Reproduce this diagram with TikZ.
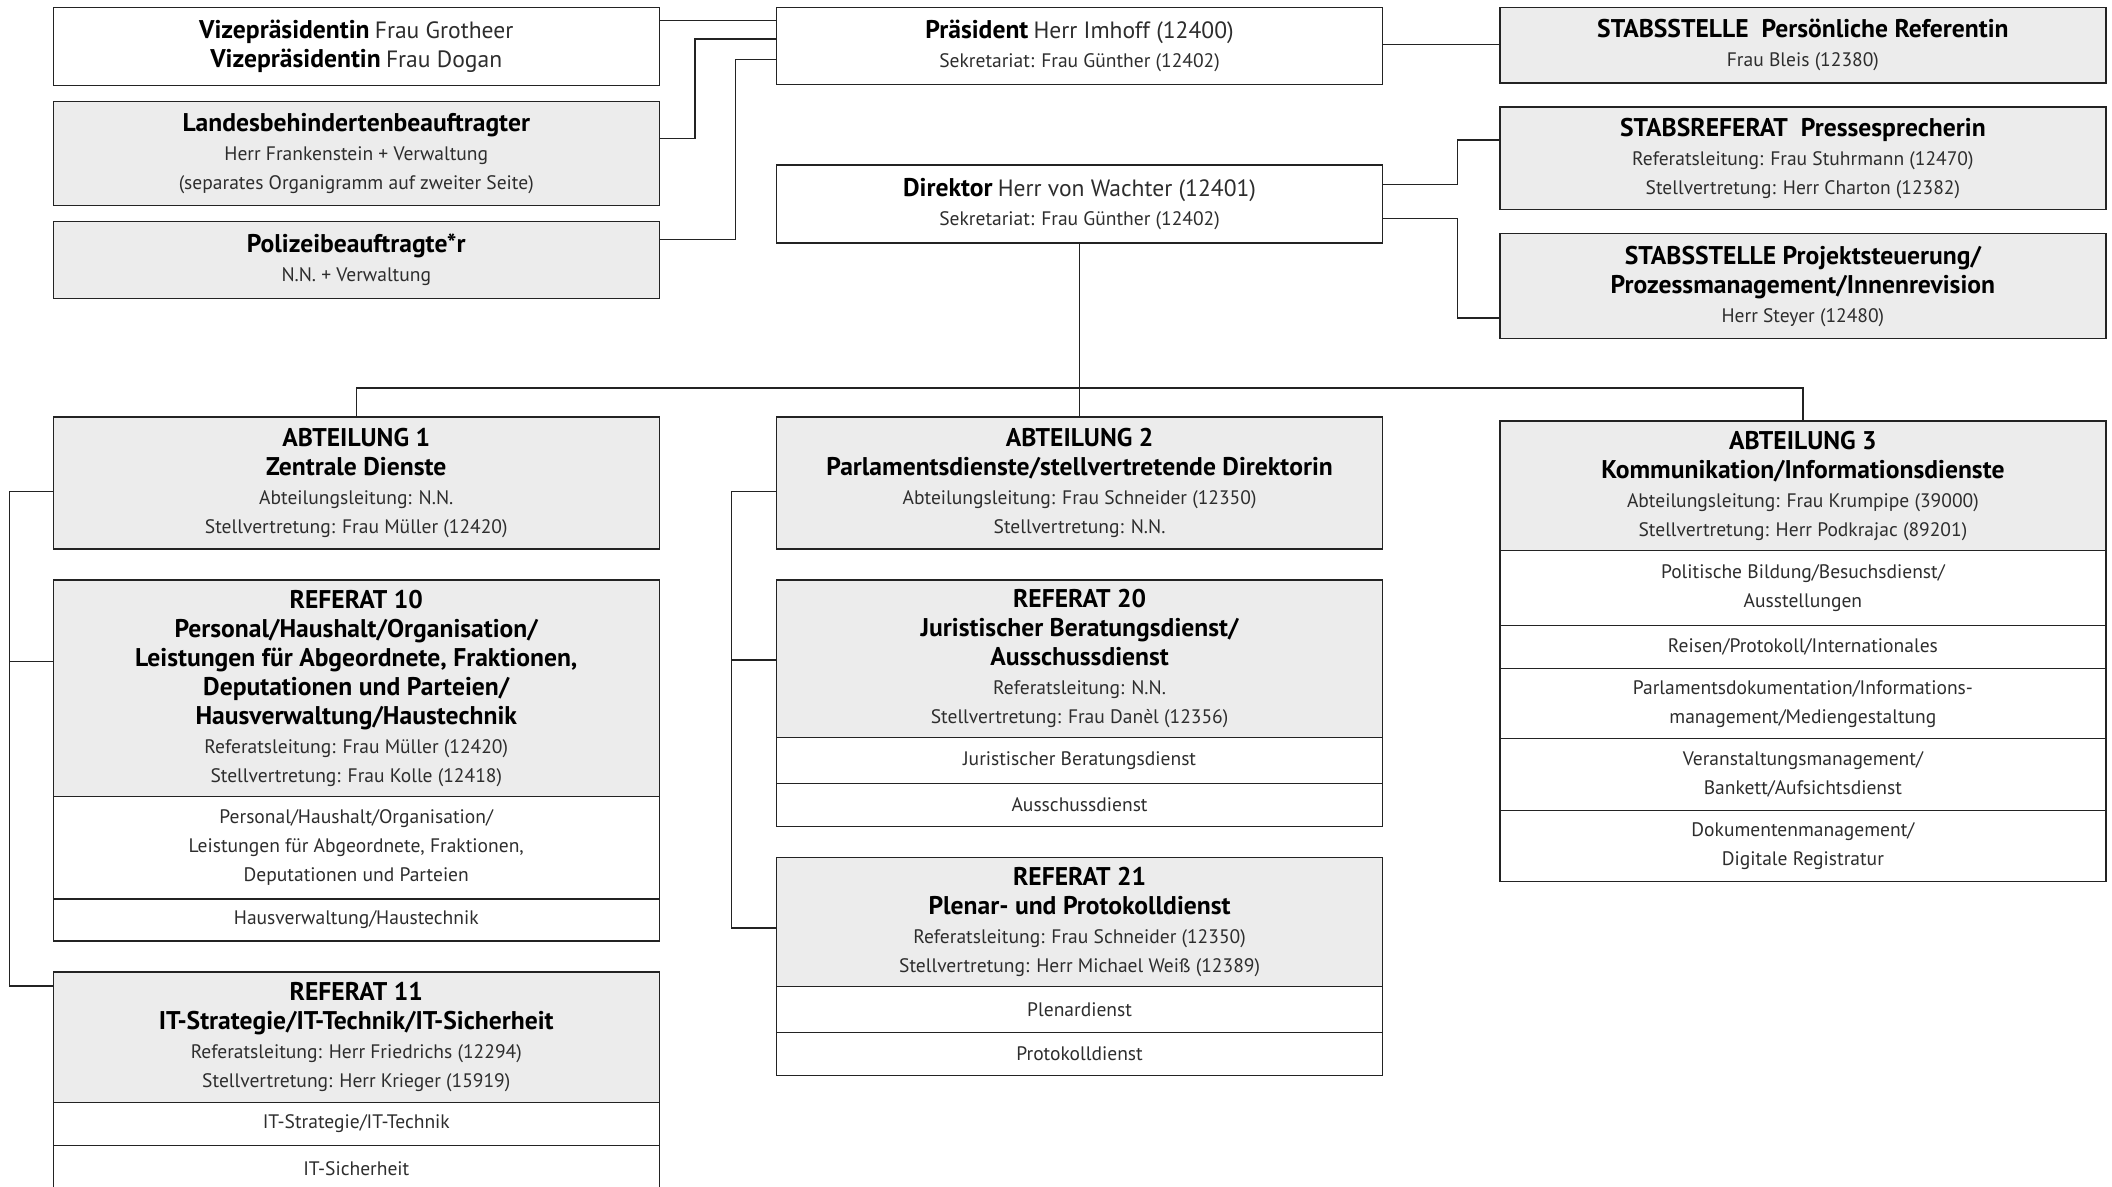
\documentclass[tikz,border=0pt]{standalone}
\usepackage{fontspec}
\setmainfont{PT Sans}
\definecolor{boxgray}{RGB}{236,236,236}
\definecolor{linecol}{RGB}{35,35,35}
\definecolor{txtcol}{RGB}{45,45,45}
\newcommand\hd[1]{{\fontsize{19}{21.5}\selectfont\bfseries\color{black}#1}}
\newcommand\rg[1]{{\fontsize{17.5}{21.5}\selectfont\color{txtcol}#1}}
\newcommand\tx[1]{{\fontsize{14.5}{21.5}\selectfont\color{txtcol}#1}}
\begin{document}
\begin{tikzpicture}[x=1pt,y=-1pt,
  box/.style={draw=linecol, line width=1pt, inner sep=0pt, minimum width=450pt, anchor=north west, align=center, font=\fontsize{14.5}{21.5}\selectfont},
  gbox/.style={box, fill=boxgray},
  wbox/.style={box, fill=white},
  conn/.style={draw=linecol, line width=1pt}]
\fill[white] (0,0) rectangle (1568,881);
\useasboundingbox (0,0) rectangle (1568,881);

% top left
\node[wbox, minimum height=58pt] (vize) at (39,5) {\hd{Vizepräsidentin} \rg{Frau Grotheer}\\\hd{Vizepräsidentin} \rg{Frau Dogan}};
\node[gbox, minimum height=77pt] (landes) at (39,75) {\hd{Landesbehindertenbeauftragter}\\\tx{Herr Frankenstein + Verwaltung}\\\tx{(separates Organigramm auf zweiter Seite)}};
\node[gbox, minimum height=57pt] (polizei) at (39,164) {\hd{Polizeibeauftragte*r}\\\tx{N.N. + Verwaltung}};

% center top
\node[wbox, minimum height=57pt] (praes) at (576,5) {\hd{Präsident} \rg{Herr Imhoff (12400)}\\\tx{Sekretariat: Frau Günther (12402)}};
\node[wbox, minimum height=58pt] (dir) at (576,122) {\hd{Direktor} \rg{Herr von Wachter (12401)}\\\tx{Sekretariat: Frau Günther (12402)}};

% right top
\node[gbox, minimum height=56pt] (stab1) at (1113,5) {\hd{STABSSTELLE\ \ Persönliche Referentin}\\\tx{Frau Bleis (12380)}};
\node[gbox, minimum height=76pt] (stabref) at (1113,79) {\hd{STABSREFERAT\ \ Pressesprecherin}\\\tx{Referatsleitung: Frau Stuhrmann (12470)}\\\tx{Stellvertretung: Herr Charton (12382)}};
\node[gbox, minimum height=78pt] (stab2) at (1113,173) {\hd{STABSSTELLE Projektsteuerung/}\\\hd{Prozessmanagement/Innenrevision}\\\tx{Herr Steyer (12480)}};

% Abteilung 1
\node[gbox, minimum height=98pt] (abt1) at (39,309) {\hd{ABTEILUNG 1}\\\hd{Zentrale Dienste}\\\tx{Abteilungsleitung: N.N.}\\\tx{Stellvertretung: Frau Müller (12420)}};
\node[gbox, minimum height=161pt] (ref10) at (39,430) {\hd{REFERAT 10}\\\hd{Personal/Haushalt/Organisation/}\\\hd{Leistungen für Abgeordnete, Fraktionen,}\\\hd{Deputationen und Parteien/}\\\hd{Hausverwaltung/Haustechnik}\\\tx{Referatsleitung: Frau Müller (12420)}\\\tx{Stellvertretung: Frau Kolle (12418)}};
\node[wbox, minimum height=76pt] (ref10a) at (39,591) {\tx{Personal/Haushalt/Organisation/}\\\tx{Leistungen für Abgeordnete, Fraktionen,}\\\tx{Deputationen und Parteien}};
\node[wbox, minimum height=31pt] (ref10b) at (39,667) {\tx{Hausverwaltung/Haustechnik}};
\node[gbox, minimum height=97pt] (ref11) at (39,721) {\hd{REFERAT 11}\\\hd{IT-Strategie/IT-Technik/IT-Sicherheit}\\\tx{Referatsleitung: Herr Friedrichs (12294)}\\\tx{Stellvertretung: Herr Krieger (15919)}};
\node[wbox, minimum height=32pt] (ref11a) at (39,818) {\tx{IT-Strategie/IT-Technik}};
\node[wbox, minimum height=34pt] (ref11b) at (39,850) {\tx{IT-Sicherheit}};

% Abteilung 2
\node[gbox, minimum height=98pt] (abt2) at (576,309) {\hd{ABTEILUNG 2}\\\hd{Parlamentsdienste/stellvertretende Direktorin}\\\tx{Abteilungsleitung: Frau Schneider (12350)}\\\tx{Stellvertretung: N.N.}};
\node[gbox, minimum height=117pt] (ref20) at (576,430) {\hd{REFERAT 20}\\\hd{Juristischer Beratungsdienst/}\\\hd{Ausschussdienst}\\\tx{Referatsleitung: N.N.}\\\tx{Stellvertretung: Frau Danèl (12356)}};
\node[wbox, minimum height=34pt] (ref20a) at (576,547) {\tx{Juristischer Beratungsdienst}};
\node[wbox, minimum height=32pt] (ref20b) at (576,581) {\tx{Ausschussdienst}};
\node[gbox, minimum height=96pt] (ref21) at (576,636) {\hd{REFERAT 21}\\\hd{Plenar- und Protokolldienst}\\\tx{Referatsleitung: Frau Schneider (12350)}\\\tx{Stellvertretung: Herr Michael Weiß (12389)}};
\node[wbox, minimum height=34pt] (ref21a) at (576,732) {\tx{Plenardienst}};
\node[wbox, minimum height=32pt] (ref21b) at (576,766) {\tx{Protokolldienst}};

% Abteilung 3
\node[gbox, minimum height=96pt] (abt3) at (1113,312) {\hd{ABTEILUNG 3}\\\hd{Kommunikation/Informationsdienste}\\\tx{Abteilungsleitung: Frau Krumpipe (39000)}\\\tx{Stellvertretung: Herr Podkrajac (89201)}};
\node[wbox, minimum height=56pt] (abt3a) at (1113,408) {\tx{Politische Bildung/Besuchsdienst/}\\\tx{Ausstellungen}};
\node[wbox, minimum height=32pt] (abt3b) at (1113,464) {\tx{Reisen/Protokoll/Internationales}};
\node[wbox, minimum height=52pt] (abt3c) at (1113,496) {\tx{Parlamentsdokumentation/Informations-}\\\tx{management/Mediengestaltung}};
\node[wbox, minimum height=53pt] (abt3d) at (1113,548) {\tx{Veranstaltungsmanagement/}\\\tx{Bankett/Aufsichtsdienst}};
\node[wbox, minimum height=53pt] (abt3e) at (1113,601) {\tx{Dokumentenmanagement/}\\\tx{Digitale Registratur}};

% connectors top
\draw[conn] (vize.east |- 0,15) -- (praes.west |- 0,15);
\draw[conn] (landes.east |- 0,103) -- (516,103) |- (praes.west |- 0,29);
\draw[conn] (polizei.east |- 0,178) -- (546,178) |- (praes.west |- 0,44);
\draw[conn] (praes.east |- 0,33) -- (stab1.west |- 0,33);
\draw[conn] (dir.east |- 0,137) -- (1082,137) |- (stabref.west |- 0,104);
\draw[conn] (dir.east |- 0,162) -- (1082,162) |- (stab2.west |- 0,236);

% bus
\draw[conn] (dir.south) -- (abt2.north);
\draw[conn] (abt1.north) -- (abt1.north |- 0,288) -- (abt3.north |- 0,288) -- (abt3.north);

% left brackets
\draw[conn] (abt1.west |- 0,365) -- (7,365) |- (ref11.west |- 0,732);
\draw[conn] (7,491) -- (ref10.west |- 0,491);
\draw[conn] (abt2.west |- 0,365) -- (543,365) |- (ref21.west |- 0,689);
\draw[conn] (543,490) -- (ref20.west |- 0,490);
\end{tikzpicture}
\end{document}
